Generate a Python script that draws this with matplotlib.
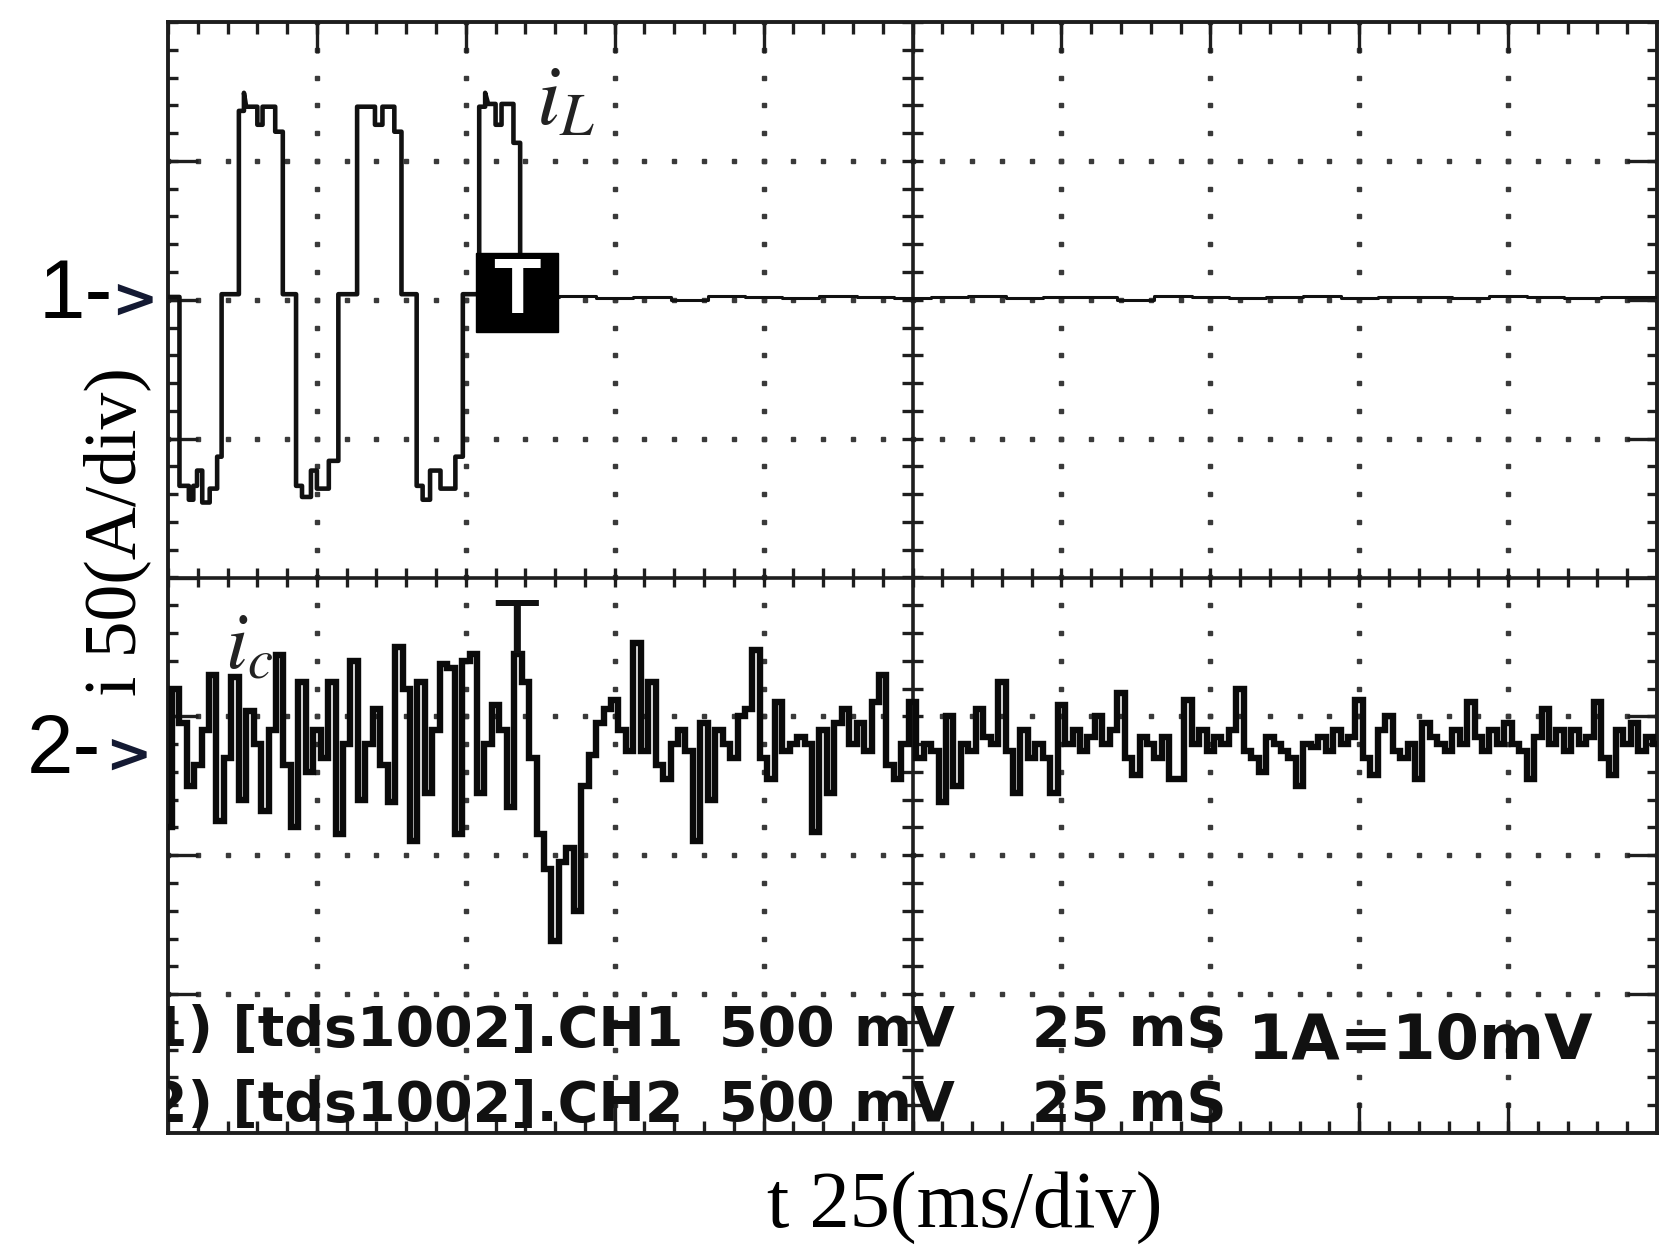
import numpy as np
import matplotlib.pyplot as plt
from matplotlib.patches import Rectangle

# scope screen: 10 x 8 divisions, all trace values below are in divisions
# CH1 = i_L (ground marker at +2 div), CH2 = i_c (ground marker near -1.2 div)

# i_L: stepped inverter current, three cycles before the trigger
ch1_x = [0, 0.077, 0.077, 0.14, 0.14, 0.17, 0.17, 0.195, 0.195, 0.23, 0.23, 0.28, 0.28, 0.33,
         0.33, 0.36, 0.36, 0.476, 0.476, 0.51, 0.51, 0.525, 0.6, 0.6, 0.635, 0.635, 0.72, 0.72,
         0.771, 0.771, 0.86, 0.86, 0.9, 0.9, 0.96, 0.96, 1.0, 1.0, 1.08, 1.08, 1.144, 1.144,
         1.27, 1.27, 1.39, 1.39, 1.44, 1.44, 1.52, 1.52, 1.568, 1.568, 1.67, 1.67, 1.71, 1.71,
         1.76, 1.76, 1.83, 1.83, 1.93, 1.93, 1.98, 1.98, 2.09, 2.09, 2.13, 2.13, 2.15, 2.2, 2.2,
         2.24, 2.24, 2.32, 2.32, 2.365, 2.365, 2.5]
ch1_y = [2.02, 2.02, 0.66, 0.66, 0.56, 0.56, 0.66, 0.66, 0.77, 0.77, 0.54, 0.54, 0.64, 0.64,
         0.87, 0.87, 2.04, 2.04, 3.36, 3.36, 3.49, 3.39, 3.39, 3.26, 3.26, 3.39, 3.39, 3.21,
         3.21, 2.04, 2.04, 0.66, 0.66, 0.58, 0.58, 0.77, 0.77, 0.64, 0.64, 0.84, 0.84, 2.04,
         2.04, 3.39, 3.39, 3.26, 3.26, 3.39, 3.39, 3.21, 3.21, 2.04, 2.04, 0.66, 0.66, 0.56,
         0.56, 0.77, 0.77, 0.64, 0.64, 0.87, 0.87, 2.04, 2.04, 3.39, 3.39, 3.49, 3.41, 3.41, 3.26,
         3.26, 3.41, 3.41, 3.13, 3.13, 2.02, 2.02]

# i_L after the trigger (flat, small ripple), one value every 0.25 div from 2.5 div
ch1_tail = [2.02, 2.03, 2.01, 2.02, 2.00, 2.03, 2.02, 2.01, 2.03, 2.02, 2.01, 2.02, 2.03, 2.01,
            2.02, 2.02, 2.00, 2.03, 2.02, 2.01, 2.02, 2.03, 2.01, 2.02, 2.02, 2.01, 2.03, 2.02,
            2.01, 2.02, 2.02]

# i_c: one value every 0.05 div from 0 to 10 div
ch2 = [-1.8, -0.8, -1.05, -1.5, -1.35, -1.1, -0.7, -1.75, -1.3, -0.72,
       -1.6, -0.96, -1.2, -1.68, -1.1, -0.56, -1.35, -1.8, -0.75, -1.4,
       -1.1, -1.3, -0.75, -1.85, -1.2, -0.6, -1.6, -1.2, -0.95, -1.35,
       -1.62, -0.5, -0.8, -1.9, -0.75, -1.55, -1.1, -0.62, -0.65, -1.85,
       -0.6, -0.55, -1.55, -1.2, -0.92, -1.1, -1.65, -0.55, -0.75, -1.3,
       -1.85, -2.1, -2.62, -2.05, -1.95, -2.4, -1.5, -1.28, -1.05, -0.95,
       -0.88, -1.1, -1.25, -0.47, -1.25, -0.75, -1.35, -1.45, -1.2, -1.1,
       -1.25, -1.9, -1.05, -1.6, -1.1, -1.2, -1.3, -1.0, -0.95, -0.52,
       -1.3, -1.45, -0.9, -1.25, -1.2, -1.15, -1.2, -1.83, -1.1, -1.55,
       -1.05, -0.95, -1.2, -1.05, -1.25, -0.9, -0.7, -1.35, -1.45, -1.2,
       -0.9, -1.3, -1.2, -1.25, -1.62, -1.0, -1.5, -1.2, -1.25, -0.95,
       -1.15, -1.2, -0.75, -1.25, -1.55, -1.1, -1.3, -1.2, -1.3, -1.55,
       -0.92, -1.2, -1.1, -1.25, -1.15, -1.0, -1.2, -1.1, -0.83, -1.3,
       -1.42, -1.15, -1.2, -1.3, -1.15, -1.45, -1.45, -0.88, -1.2, -1.1,
       -1.25, -1.15, -1.2, -1.1, -0.8, -1.25, -1.3, -1.4, -1.15, -1.2,
       -1.25, -1.3, -1.5, -1.2, -1.22, -1.15, -1.25, -1.1, -1.2, -1.15,
       -0.88, -1.3, -1.42, -1.1, -1.0, -1.25, -1.3, -1.2, -1.45, -1.05,
       -1.15, -1.2, -1.25, -1.1, -1.2, -0.9, -1.15, -1.25, -1.1, -1.2,
       -1.05, -1.2, -1.25, -1.45, -1.15, -0.95, -1.2, -1.1, -1.25, -1.1,
       -1.2, -1.15, -0.9, -1.3, -1.42, -1.1, -1.2, -1.05, -1.25, -1.15,
       -1.2]

W, H = 1679, 1251
fig = plt.figure(figsize=(W / 100, H / 100), dpi=100)
ax = fig.add_axes([168 / W, (H - 1133) / H, (1657 - 168) / W, (1133 - 22) / H])
ax.set_xlim(0, 10)
ax.set_ylim(-4, 4)
ax.set_xticks([])
ax.set_yticks([])
for s in ax.spines.values():
    s.set_linewidth(2.8)
    s.set_color('#1e1e1e')

ink = '#1e1e1e'
xm = np.arange(0, 10.001, 0.2)
ym = np.arange(-4, 4.001, 0.2)

# dotted graticule
for xv in [1, 2, 3, 4, 6, 7, 8, 9]:
    ax.plot(np.full_like(ym, xv), ym, 's', ms=3.4, color='#3a3a3a', zorder=1)
for yv in [-3, -2, -1, 1, 2, 3]:
    ax.plot(xm, np.full_like(xm, yv), 's', ms=3.4, color='#3a3a3a', zorder=1)

# centre cross with minor ticks
ax.axvline(5, color=ink, lw=2.6, zorder=2)
ax.axhline(0, color=ink, lw=2.6, zorder=2)
ax.vlines(xm, -0.07, 0.07, color=ink, lw=2.4, zorder=2)
ax.hlines(ym, 5 - 0.07, 5 + 0.07, color=ink, lw=2.4, zorder=2)

# border ticks
ax.vlines(xm, 4 - 0.09, 4, color=ink, lw=2.4)
ax.vlines(xm, -4, -4 + 0.09, color=ink, lw=2.4)
ax.hlines(ym, 0, 0.07, color=ink, lw=2.4)
ax.hlines(ym, 10 - 0.07, 10, color=ink, lw=2.4)
ax.vlines(np.arange(1, 10), 4 - 0.22, 4, color=ink, lw=2.4)
ax.vlines(np.arange(1, 10), -4, -4 + 0.22, color=ink, lw=2.4)
ax.hlines(np.arange(-3, 4), 0, 0.2, color=ink, lw=2.4)
ax.hlines(np.arange(-3, 4), 10 - 0.2, 10, color=ink, lw=2.4)

# traces
ax.plot(ch1_x, ch1_y, color='#111111', lw=3.3, zorder=4)
ax.plot(np.linspace(2.5, 10, len(ch1_tail)), ch1_tail, color='#111111', lw=2.2,
        drawstyle='steps-mid', zorder=4)
ax.plot(np.linspace(0, 10, len(ch2)), ch2, color='#0a0a0a', lw=4.6,
        drawstyle='steps-mid', solid_joinstyle='miter', zorder=4)

# trigger markers
ax.add_patch(Rectangle((2.07, 1.77), 0.55, 0.57, color='black', zorder=6))
ax.text(2.345, 2.05, 'T', color='white', fontsize=56, fontweight='bold',
        family='Liberation Sans', ha='center', va='center', zorder=7)
ax.text(2.34, -0.15, 'T', color='#111111', fontsize=55, family='Liberation Sans',
        ha='center', va='top', zorder=5)

# trace names
plt.rcParams['mathtext.fontset'] = 'stix'
ax.text(2.47, 3.26, r'$i_L$', fontsize=62, color='#222222', ha='left', va='baseline', zorder=5)
ax.text(0.38, -0.66, r'$i_c$', fontsize=58, color='#222222', ha='left', va='baseline', zorder=5)

# scope readout
info = dict(fontsize=40, fontweight='bold', family='DejaVu Sans', color='#111111',
            va='baseline', ha='left', zorder=5, clip_on=True)
ax.text(-0.13, -3.37, '1) [tds1002].CH1', **info)
ax.text(-0.13, -3.91, '2) [tds1002].CH2', **info)
ax.text(3.70, -3.37, '500 mV', **info)
ax.text(3.70, -3.91, '500 mV', **info)
ax.text(5.80, -3.37, '25 mS', **info)
ax.text(5.80, -3.91, '25 mS', **info)
ax.text(7.25, -3.47, '1A=10mV', **dict(info, fontsize=45))

# channel ground markers
ax.text(-0.87, 1.87, '1-', fontsize=60, family='Liberation Sans', color='black',
        ha='left', va='baseline', clip_on=False)
ax.text(-0.385, 1.875, '>', fontsize=40, fontweight='bold', family='DejaVu Sans',
        color='#141a33', ha='left', va='baseline', clip_on=False)
ax.text(-0.95, -1.41, '2-', fontsize=60, family='Liberation Sans', color='black',
        ha='left', va='baseline', clip_on=False)
ax.text(-0.42, -1.40, '>', fontsize=40, fontweight='bold', family='DejaVu Sans',
        color='#141a33', ha='left', va='baseline', clip_on=False)

# axis captions
ax.text(-0.34, 0.33, 'i 50(A/div)', fontsize=53, family='Liberation Serif', rotation=90,
        ha='center', va='center', clip_on=False)
ax.text(5.35, -4.54, 't 25(ms/div)', fontsize=58, family='Liberation Serif',
        ha='center', va='center', clip_on=False)

fig.savefig('out.png', dpi=100, facecolor='white')
